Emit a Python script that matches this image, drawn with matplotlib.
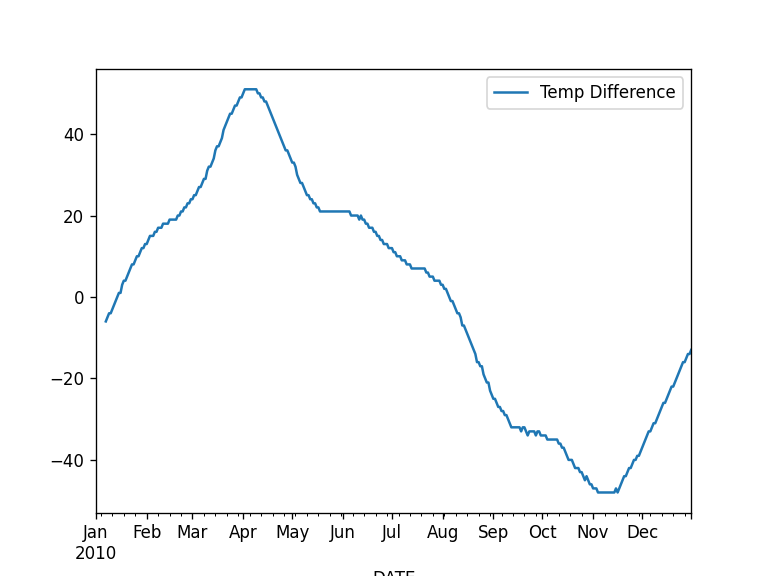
import numpy as np
import pandas as pd
import matplotlib
matplotlib.use("Agg")
import matplotlib.pyplot as plt

nan = np.nan
jan = [nan, nan, nan, nan, nan, nan, -6, -5, -4, -4, -3, -2, -1, 0, 1, 1, 3, 4, 4, 5,
       6, 7, 8, 8, 9, 10, 10, 11, 12, 12, 13]
feb = [13, 14, 15, 15, 15, 16, 16, 17, 17, 17, 18, 18, 18, 18, 19, 19, 19, 19, 19, 20,
       20, 21, 21, 22, 22, 23, 23, 24]
mar = [24, 25, 25, 26, 27, 27, 28, 29, 29, 31, 32, 32, 33, 34, 36, 37, 37, 38, 39, 41,
       42, 43, 44, 45, 45, 46, 47, 47, 48, 49, 49]
apr = [50, 51, 51, 51, 51, 51, 51, 51, 51, 50, 50, 49, 49, 48, 48, 47, 46, 45, 44, 43,
       42, 41, 40, 39, 38, 37, 36, 36, 35, 34]
may = [33, 33, 32, 30, 29, 28, 28, 27, 26, 25, 25, 24, 24, 23, 23, 22, 22, 21, 21, 21,
       21, 21, 21, 21, 21, 21, 21, 21, 21, 21, 21]
jun = [21, 21, 21, 21, 21, 20, 20, 20, 20, 20, 19, 20, 19, 19, 18, 18, 17, 17, 17, 16,
       16, 15, 15, 14, 14, 13, 13, 13, 12, 12]
jul = [12, 11, 11, 10, 10, 10, 9, 9, 9, 8, 8, 8, 7, 7, 7, 7, 7, 7, 7, 7,
       7, 6, 6, 5, 5, 5, 4, 4, 4, 4, 3]
aug = [3, 2, 2, 1, 0, -1, -1, -2, -3, -4, -4, -5, -7, -7, -8, -9, -10, -11, -12, -13,
       -14, -16, -16, -17, -17, -19, -20, -21, -21, -23, -24]
sep = [-25, -25, -26, -27, -27, -28, -28, -29, -29, -30, -31, -32, -32, -32, -32, -32, -32, -33, -32, -32,
       -33, -34, -33, -33, -33, -33, -34, -33, -33, -34]
oct_ = [-34, -34, -34, -35, -35, -35, -35, -35, -35, -35, -36, -36, -37, -37, -38, -39, -40, -40, -40, -41,
        -42, -42, -42, -43, -43, -44, -45, -44, -45, -46, -46]
nov = [-47, -47, -47, -48, -48, -48, -48, -48, -48, -48, -48, -48, -48, -48, -47, -48, -47, -46, -45, -44,
       -44, -43, -42, -42, -41, -40, -40, -39, -39, -38]
dec = [-37, -36, -35, -34, -33, -33, -32, -31, -31, -30, -29, -28, -27, -26, -26, -25, -24, -23, -22, -22,
       -21, -20, -19, -18, -17, -16, -16, -15, -14, -14, -13]

values = jan + feb + mar + apr + may + jun + jul + aug + sep + oct_ + nov + dec
dates = pd.date_range("2010-01-01", periods=len(values), freq="D", name="DATE")
df = pd.DataFrame({"Temp Difference": values}, index=dates)

fig, ax = plt.subplots(figsize=(6.4, 4.8), dpi=120)
df.plot(ax=ax)
fig.savefig("out.png", dpi=120)
